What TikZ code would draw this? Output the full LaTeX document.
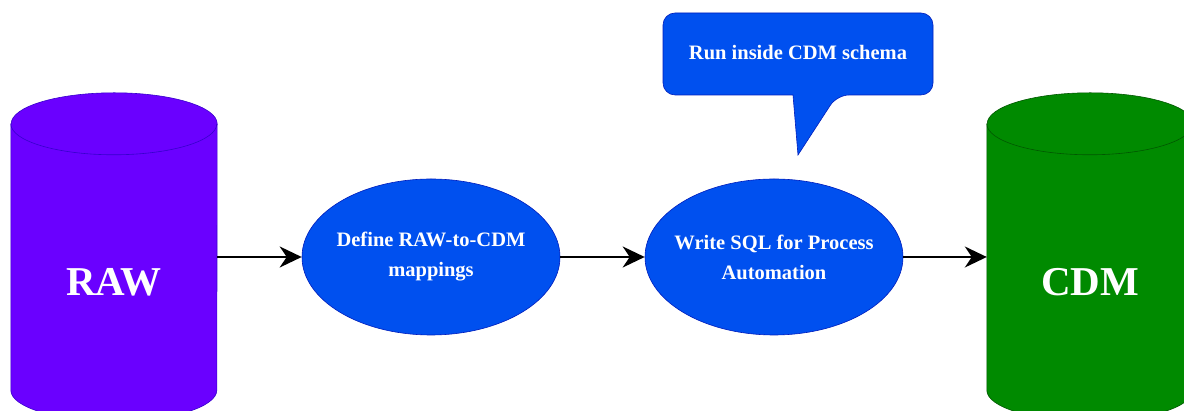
\documentclass[tikz,border=0pt]{standalone}
\usepackage{fontspec}
\setmainfont{Liberation Serif}
\usetikzlibrary{shapes.geometric,arrows.meta}
\definecolor{rawfill}{HTML}{6A00FF}
\definecolor{rawline}{HTML}{3700CC}
\definecolor{stepfill}{HTML}{0050EF}
\definecolor{stepline}{HTML}{001DBC}
\definecolor{cdmfill}{HTML}{008A00}
\definecolor{cdmline}{HTML}{005700}
\begin{document}
\begin{tikzpicture}[x=1pt,y=1pt,
  db/.style={minimum width=206pt,minimum height=328pt,inner sep=0pt},
  dbtext/.style={text=white,font=\bfseries\fontsize{41}{45}\selectfont},
  stepnode/.style={ellipse,fill=stepfill,draw=stepline,line width=0.6pt,minimum width=258pt,minimum height=156pt,inner xsep=-10pt,inner ysep=0pt,text=white,align=center,font=\bfseries\fontsize{20.5}{30}\selectfont},
  flow/.style={line width=2pt,-{Stealth[length=22pt,width=21pt,inset=7pt]}}]
\useasboundingbox (0,0) rectangle (1184,411);
\node[db] (raw) at (114,154) {};
\node[db] (cdm) at (1090,154) {};
\foreach \n/\f/\l in {raw/rawfill/rawline,cdm/cdmfill/cdmline}{
  \filldraw[fill=\f,draw=\l,line width=0.6pt] ([yshift=-31pt]\n.north west) -- ([yshift=31pt]\n.south west)
    arc[start angle=180,end angle=360,x radius=103pt,y radius=31pt] -- ([yshift=-31pt]\n.north east)
    arc[start angle=0,end angle=180,x radius=103pt,y radius=31pt] -- cycle;
  \draw[\l,line width=0.6pt] ([yshift=-31pt]\n.north west) arc[start angle=180,end angle=360,x radius=103pt,y radius=31pt];
}
\node[dbtext] (rawname) at ([yshift=-25pt]raw.center) {RAW};
\node[dbtext] (cdmname) at ([yshift=-25pt]cdm.center) {CDM};
\node[stepnode] (map) at (431,154) {Define RAW-to-CDM\\mappings};
\node[stepnode] (sql) at (774,154) {Write SQL for Process\\Automation};
% callout
\draw[fill=stepfill,draw=stepline,line width=0.6pt] (663,357) [rounded corners=12pt] -- (663,398) -- (933,398) -- (933,316) -- (837,316) [sharp corners] -- (798,256) -- (793,316) [rounded corners=12pt] -- (663,316) -- cycle;
\node[text=white,font=\bfseries\fontsize{20.5}{30}\selectfont] (note) at (798,358) {Run inside CDM schema};
\draw[flow] (raw.east) -- (map.west);
\draw[flow] (map.east) -- (sql.west);
\draw[flow] (sql.east) -- (cdm.west);
\end{tikzpicture}
\end{document}
